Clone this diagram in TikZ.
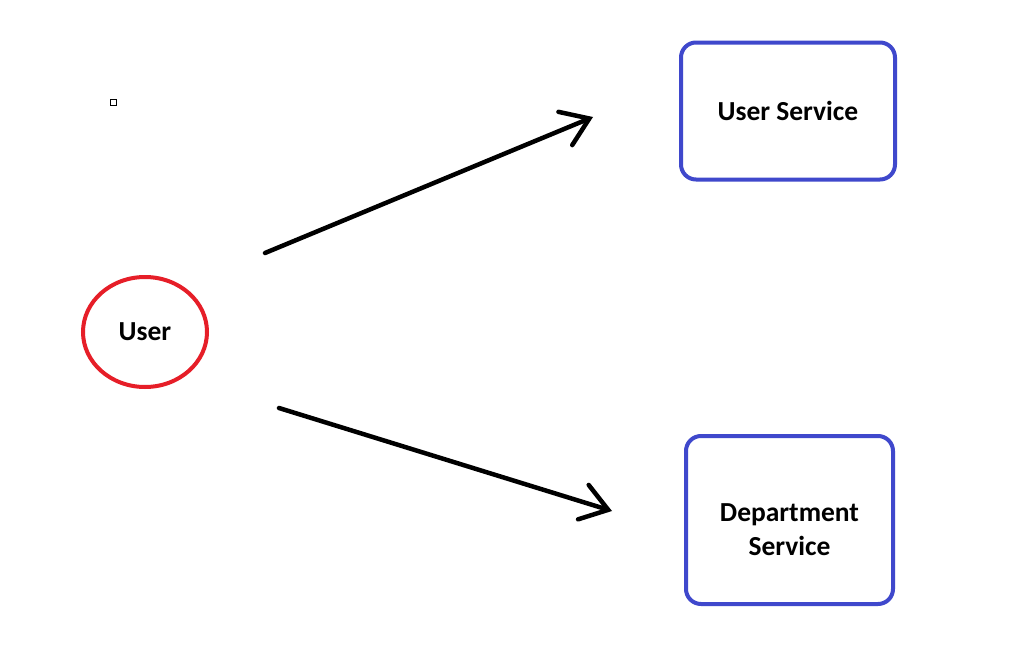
\documentclass[tikz,border=0pt]{standalone}
\usepackage{fontspec}
\setmainfont{Carlito}
\usetikzlibrary{arrows.meta,positioning}
\usetikzlibrary{shapes.geometric}
\definecolor{userred}{RGB}{230,30,40}
\definecolor{serviceblue}{RGB}{63,72,204}
\tikzset{
    client/.style={
        ellipse, draw=userred, line width=4pt,
        minimum width=124pt, minimum height=110pt,
        font=\fontsize{27.5}{33}\selectfont\bfseries,
    },
    service/.style={
        rectangle, rounded corners=15pt, draw=serviceblue, line width=4pt,
        align=center,
        font=\fontsize{27.5}{34}\selectfont\bfseries,
    },
    request/.style={
        line width=4.5pt, line cap=round,
        -{Straight Barb[length=26pt,width=36pt,line cap=round]},
    },
}

\begin{document}
\begin{tikzpicture}[x=1pt, y=-1pt]
    \useasboundingbox (0,0) rectangle (1026,645);
    \fill[white] (0,0) rectangle (1026,645);

    \node[client] (user) at (145,332) {User};
    \node[service, minimum width=214pt, minimum height=137pt] (usersvc) at (788,111) {User Service};
    \node[service, minimum width=207pt, minimum height=168pt, text height=72pt] (deptsvc) at (789.5,520) {Department\\Service};

    % free ends of the two hand drawn arrows
    \coordinate (from1) at (265,253);
    \coordinate (to1) at (593,117);
    \coordinate (from2) at (279,408);
    \coordinate (to2) at (612,511);

    \draw[request] (from1) -- (to1);
    \draw[request] (from2) -- (to2);

    % stray marker
    \node[draw, line width=1pt, minimum size=6pt, inner sep=0pt] (mark) at (113.5,102) {};
\end{tikzpicture}
\end{document}
